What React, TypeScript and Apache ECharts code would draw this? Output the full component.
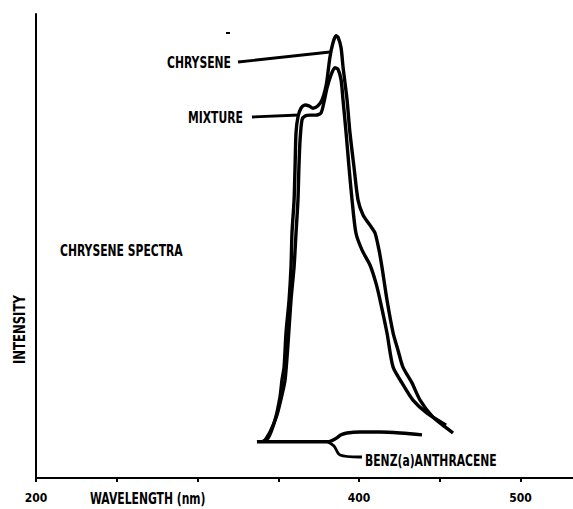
import React, { useEffect, useRef } from "react";
import * as echarts from "echarts";

// Wavelength (nm) / relative intensity
const chryseneNm = [339.9, 343.7, 348.0, 351.1, 352.3, 353.6, 354.8, 356.7, 357.9, 358.5, 359.8, 360.4, 361.0, 362.2, 364.1, 366.6, 369.0, 371.5, 374.6, 377.1, 379.0, 380.2, 382.0, 383.9, 385.8, 387.0, 388.9, 390.1, 392.6, 394.4, 396.9, 399.4, 402.5, 406.8, 409.9, 412.4, 414.2, 417.3, 421.1, 424.1, 427.2, 432.8, 437.8, 445.8, 453.3, 458.2];
const chryseneI = [7.8, 8.6, 12.5, 17.5, 21.1, 23.9, 31.3, 38.4, 45.5, 52.8, 59.9, 67.0, 74.4, 77.8, 79.7, 80.4, 80.2, 79.7, 80.2, 81.5, 83.6, 85.8, 90.7, 93.8, 95.3, 95.0, 92.7, 88.6, 81.5, 74.4, 67.0, 59.9, 56.7, 54.5, 52.8, 49.1, 45.5, 38.4, 31.3, 27.6, 23.9, 20.5, 16.8, 13.1, 11.0, 9.7];

const mixtureNm = [341.2, 344.9, 349.2, 352.3, 354.2, 356.0, 357.9, 359.8, 361.0, 362.2, 362.8, 363.5, 364.7, 366.6, 369.7, 373.4, 376.5, 378.3, 380.2, 382.7, 385.1, 387.0, 388.9, 390.1, 392.0, 393.8, 395.7, 398.1, 401.9, 406.8, 410.5, 413.0, 417.3, 421.1, 426.6, 433.4, 442.1, 453.9];
const mixtureI = [7.8, 9.9, 13.6, 17.9, 21.1, 28.7, 38.4, 45.5, 52.8, 59.9, 67.0, 72.8, 77.2, 78.0, 78.2, 78.2, 78.7, 81.0, 84.1, 86.9, 88.4, 88.1, 85.8, 81.5, 74.4, 67.0, 59.9, 52.8, 49.1, 45.9, 42.0, 38.4, 31.3, 23.9, 20.5, 16.8, 14.0, 11.4];

const benzNm = [336.8, 357.3, 380.8, 385.1, 388.9, 392.6, 400.6, 413.0, 425.4, 439.0];
const benzI = [7.8, 7.8, 7.8, 8.4, 9.3, 9.7, 9.9, 9.9, 9.7, 9.3];

const shownTickLabels = [200, 400, 500];

const FAMILY = "'DejaVu Sans Condensed', 'Liberation Sans Narrow', 'DejaVu Sans', sans-serif";
const FONT = "bold 12px " + FAMILY;

function pairs(xs: number[], ys: number[]) {
  return xs.map((x, i) => [x, ys[i]]);
}

export default function App() {
  const ref = useRef<HTMLDivElement>(null);
  useEffect(() => {
    document.body.style.margin = "0";
    if (!ref.current) return;
    const chart = echarts.init(ref.current, null, { renderer: "svg" });
    const line = (name: string, data: number[][]) => ({
      name,
      type: "line",
      data,
      showSymbol: false,
      smooth: 0.25,
      lineStyle: { color: "#000", width: 3.4 },
      silent: true,
    });
    const txt = (text: string, x: number, y: number, extra: any = {}) => ({
      type: "text",
      x,
      y,
      scaleY: 1.25,
      ...extra,
      style: { text, fill: "#000", font: FONT, align: "left", verticalAlign: "middle" },
    });
    const lead = (points: number[][]) => ({
      type: "polyline",
      shape: { points, smooth: 0.3 },
      style: { stroke: "#000", lineWidth: 2.8, fill: "none" },
    });
    chart.setOption({
      animation: false,
      backgroundColor: "#fff",
      grid: { left: 36, top: 14, width: 537, height: 464, containLabel: false },
      xAxis: {
        type: "value",
        min: 200,
        max: 532.5,
        interval: 50,
        axisLine: { lineStyle: { color: "#000", width: 2 } },
        axisTick: { show: true, length: 4, lineStyle: { color: "#000", width: 2 } },
        splitLine: { show: false },
        axisLabel: {
          color: "#000",
          fontWeight: "bold",
          fontSize: 12,
          fontFamily: FAMILY,
          margin: 14,
          showMaxLabel: false,
          formatter: (v: number) => (shownTickLabels.includes(v) ? String(v) : ""),
        },
      },
      yAxis: {
        type: "value",
        min: 0,
        max: 100,
        axisLine: { show: true, lineStyle: { color: "#000", width: 2 } },
        axisTick: { show: false },
        axisLabel: { show: false },
        splitLine: { show: false },
      },
      series: [
        line("CHRYSENE", pairs(chryseneNm, chryseneI)),
        line("MIXTURE", pairs(mixtureNm, mixtureI)),
        line("BENZ(a)ANTHRACENE", pairs(benzNm, benzI)),
      ],
      graphic: [
        txt("CHRYSENE", 167, 62),
        txt("MIXTURE", 188, 117),
        txt("CHRYSENE SPECTRA", 60, 250),
        txt("INTENSITY", 20, 364, { rotation: Math.PI / 2, scaleX: 1.08 }),
        txt("WAVELENGTH (nm)", 90, 498),
        txt("BENZ(a)ANTHRACENE", 365, 460),
        lead([[238, 62], [330, 52]]),
        lead([[252, 117], [299, 115]]),
        lead([[328, 442], [334, 446], [340, 455], [362, 457]]),
        { type: "rect", shape: { x: 226, y: 32, width: 4, height: 2 }, style: { fill: "#000" } },
      ],
    });
    return () => chart.dispose();
  }, []);
  return <div ref={ref} style={{ width: 573, height: 509 }} />;
}
